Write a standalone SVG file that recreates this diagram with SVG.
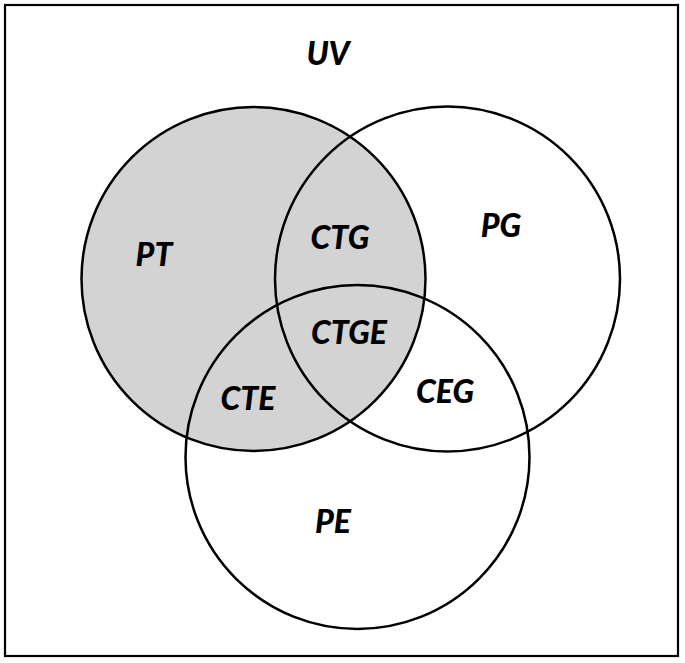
<svg xmlns="http://www.w3.org/2000/svg" width="685" height="663" viewBox="0 0 685 663">
<style>
.c{fill:none;stroke:#000;stroke-width:2.5}
.t{font-family:Lato,"Open Sans","Liberation Sans",sans-serif;font-weight:900;font-style:italic;font-size:32px;fill:#000;text-anchor:middle}
</style>
<rect x="0" y="0" width="685" height="663" fill="#fff"/>
<rect id="UV" x="5" y="5" width="673" height="651" fill="#fff" stroke="#000" stroke-width="2.2"/>
<g id="PT"><circle cx="253.5" cy="279" r="172" fill="#d3d3d3" stroke="none"/></g>
<g id="circles">
<circle id="PT-outline" class="c" cx="253.5" cy="279" r="172"/>
<circle id="PG" class="c" cx="447.5" cy="279" r="172.5"/>
<circle id="PE" class="c" cx="357.5" cy="457" r="172"/>
</g>
<g id="labels">
<text class="t" x="328" y="65">UV</text>
<text class="t" x="154" y="266">PT</text>
<text class="t" x="501" y="237">PG</text>
<text class="t" x="340" y="249">CTG</text>
<text class="t" x="349" y="344">CTGE</text>
<text class="t" x="248" y="410">CTE</text>
<text class="t" x="445" y="403">CEG</text>
<text class="t" x="333" y="533">PE</text>
</g>
</svg>
